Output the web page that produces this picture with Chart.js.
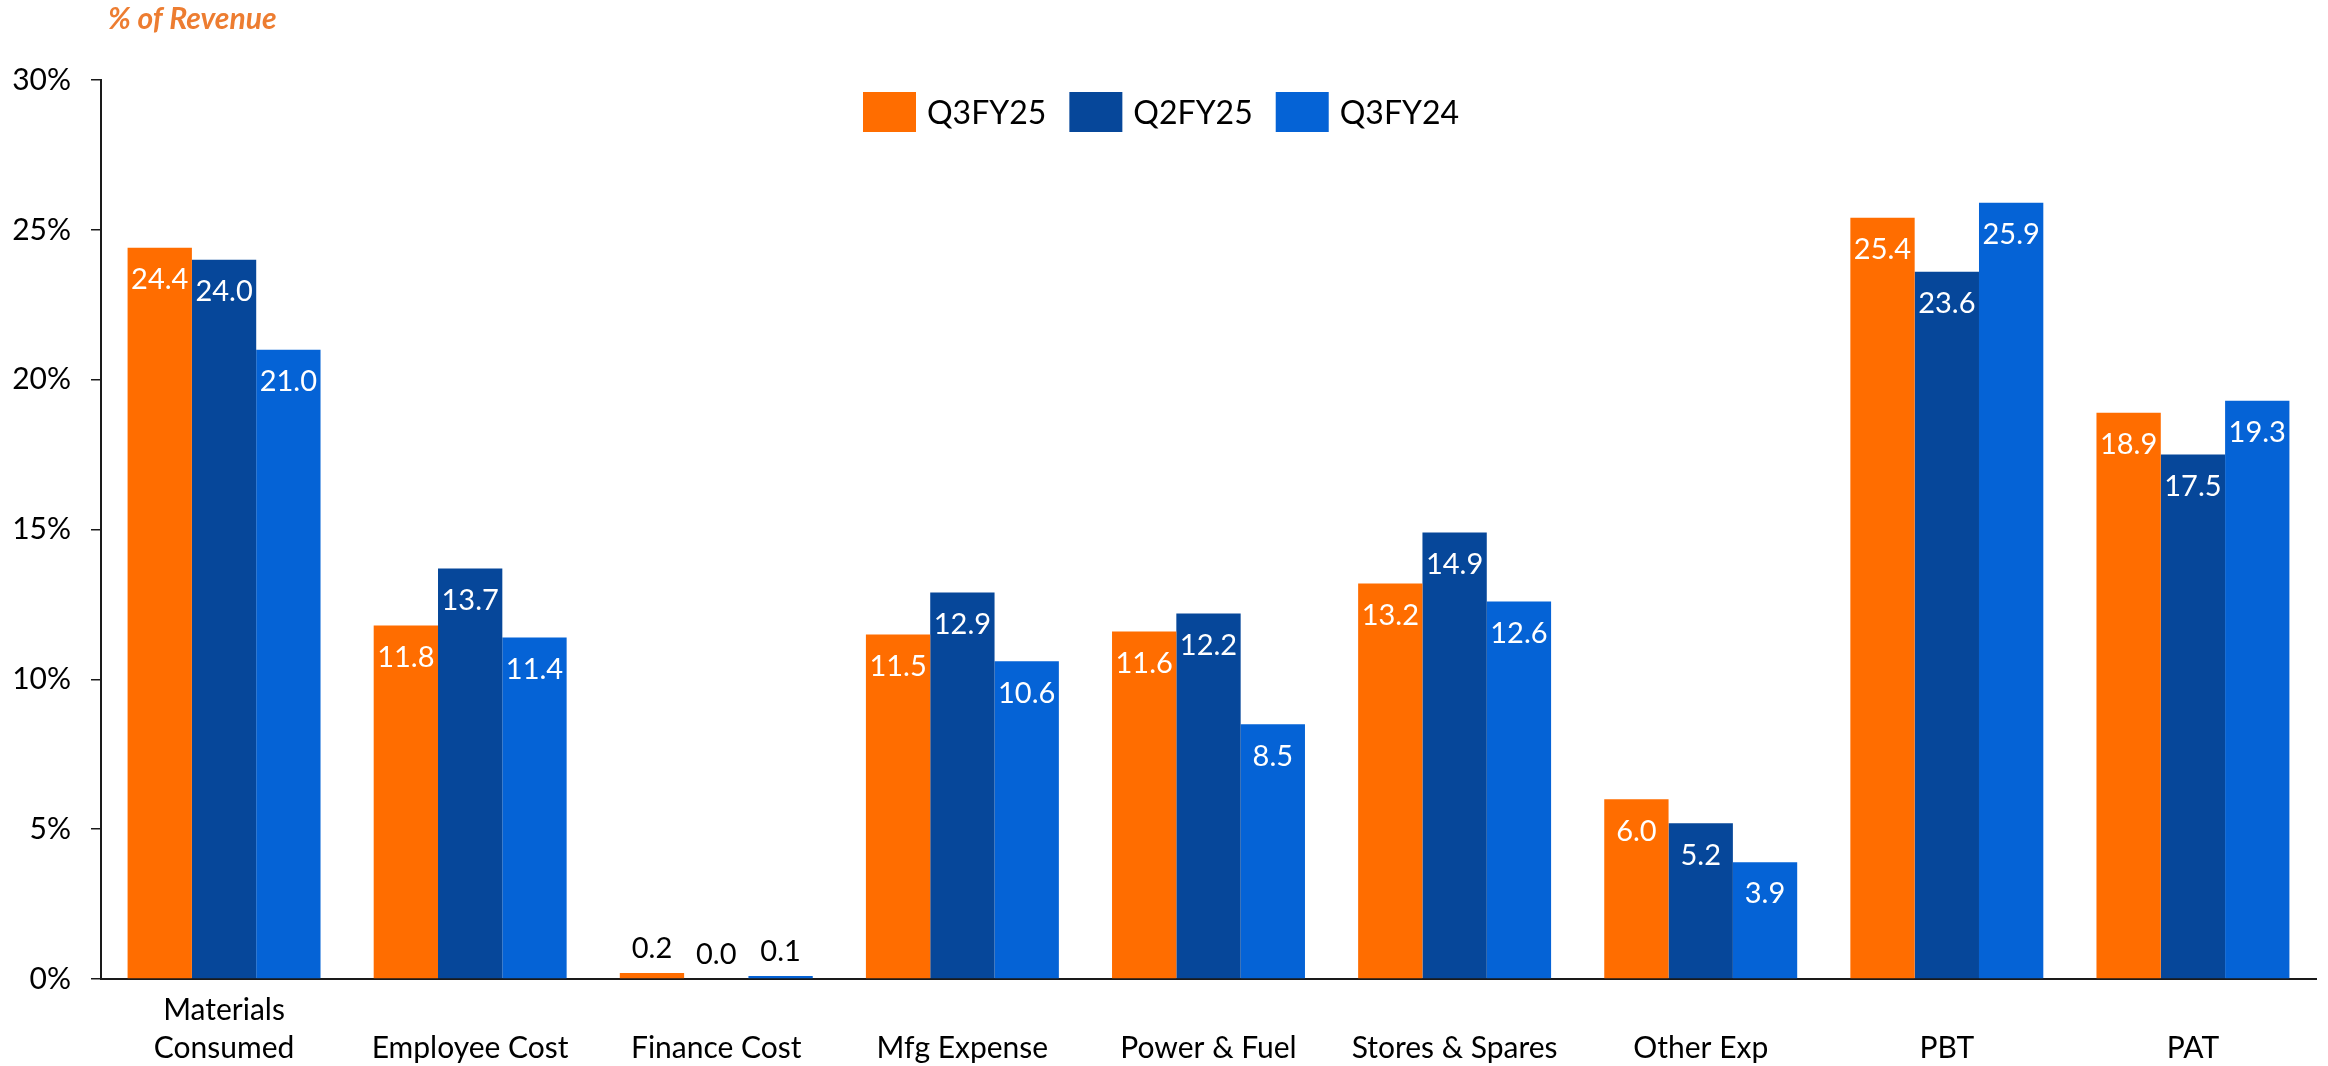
<!DOCTYPE html>
<html>
<head>
<meta charset="utf-8">
<script src="https://cdn.jsdelivr.net/npm/chart.js@4.4.1/dist/chart.umd.min.js"></script>
<style>
  html, body { margin: 0; padding: 0; background: #fff; }
  canvas { display: block; }
</style>
</head>
<body>
<canvas id="costChart" width="2328" height="1066"></canvas>
<script>
// categories (single-line names get an empty first line so they sit on the lower row)
const categories = [
  ["Materials", "Consumed"],
  ["", "Employee Cost"],
  ["", "Finance Cost"],
  ["", "Mfg Expense"],
  ["", "Power & Fuel"],
  ["", "Stores & Spares"],
  ["", "Other Exp"],
  ["", "PBT"],
  ["", "PAT"]
];
const seriesNames = ["Q3FY25", "Q2FY25", "Q3FY24"];
const q3fy25 = [24.4, 11.8, 0.2, 11.5, 11.6, 13.2, 6.0, 25.4, 18.9];
const q2fy25 = [24.0, 13.7, 0.0, 12.9, 12.2, 14.9, 5.2, 23.6, 17.5];
const q3fy24 = [21.0, 11.4, 0.1, 10.6, 8.5, 12.6, 3.9, 25.9, 19.3];
const yTicks = [0, 5, 10, 15, 20, 25, 30];

const colors = ["#FF6D00", "#06479A", "#0563D6"];
const FONT = "Lato";

Chart.defaults.font.family = FONT;
Chart.defaults.color = "#000";

const valueLabels = {
  id: "valueLabels",
  afterDatasetsDraw(chart) {
    const ctx = chart.ctx;
    ctx.save();
    ctx.font = `29px ${FONT}`;
    ctx.textAlign = "center";
    ctx.textBaseline = "middle";
    chart.data.datasets.forEach((ds, i) => {
      chart.getDatasetMeta(i).data.forEach((bar, j) => {
        const v = ds.data[j];
        const text = v.toFixed(1);
        if (v < 1) {
          ctx.fillStyle = "#000";
          ctx.fillText(text, bar.x, bar.y - 24);
        } else {
          ctx.fillStyle = "#fff";
          ctx.fillText(text, bar.x, bar.y + 32);
        }
      });
    });
    ctx.restore();
  }
};

const headerBits = {
  id: "headerBits",
  afterDraw(chart) {
    const ctx = chart.ctx;
    ctx.save();
    // title
    ctx.font = `italic bold 30px ${FONT}`;
    ctx.fillStyle = "#ED7D31";
    ctx.textAlign = "left";
    ctx.textBaseline = "alphabetic";
    ctx.fillText("% of Revenue", 108, 29);

    // legend
    ctx.font = `32px ${FONT}`;
    ctx.textBaseline = "middle";
    let x = 863;
    chart.data.datasets.forEach(ds => {
      ctx.fillStyle = ds.backgroundColor;
      ctx.fillRect(x, 92, 53, 40);
      ctx.fillStyle = "#000";
      ctx.fillText(ds.label, x + 64, 114);
      x += 64 + ctx.measureText(ds.label).width + 23;
    });
    ctx.restore();
  }
};

new Chart(document.getElementById("costChart"), {
  type: "bar",
  data: {
    labels: categories,
    datasets: [
      { label: seriesNames[0], data: q3fy25, backgroundColor: colors[0] },
      { label: seriesNames[1], data: q2fy25, backgroundColor: colors[1] },
      { label: seriesNames[2], data: q3fy24, backgroundColor: colors[2] }
    ]
  },
  options: {
    responsive: false,
    animation: false,
    layout: { padding: { top: 80, right: 12, left: 0, bottom: 0 } },
    datasets: {
      bar: { categoryPercentage: 0.784, barPercentage: 1.0 }
    },
    plugins: {
      legend: { display: false },
      title: { display: false },
      tooltip: { enabled: false }
    },
    scales: {
      x: {
        grid: { display: false, drawTicks: false },
        border: { display: true, color: "#1a1a1a", width: 2 },
        ticks: {
          font: { size: 30, lineHeight: 1.27 },
          color: "#000",
          padding: 12,
          maxRotation: 0,
          autoSkip: false
        },
        afterFit(scale) { scale.height = 87; }
      },
      y: {
        min: 0,
        max: 30,
        afterBuildTicks(scale) { scale.ticks = yTicks.map(v => ({ value: v })); },
        grid: {
          drawOnChartArea: false,
          drawTicks: true,
          tickLength: 10,
          color: "#1a1a1a",
          lineWidth: 1.5
        },
        border: { display: true, color: "#1a1a1a", width: 2 },
        ticks: {
          font: { size: 30 },
          color: "#000",
          padding: 20,
          callback: v => v + "%"
        },
        afterFit(scale) { scale.width = 101; }
      }
    }
  },
  plugins: [valueLabels, headerBits]
});
</script>
</body>
</html>
